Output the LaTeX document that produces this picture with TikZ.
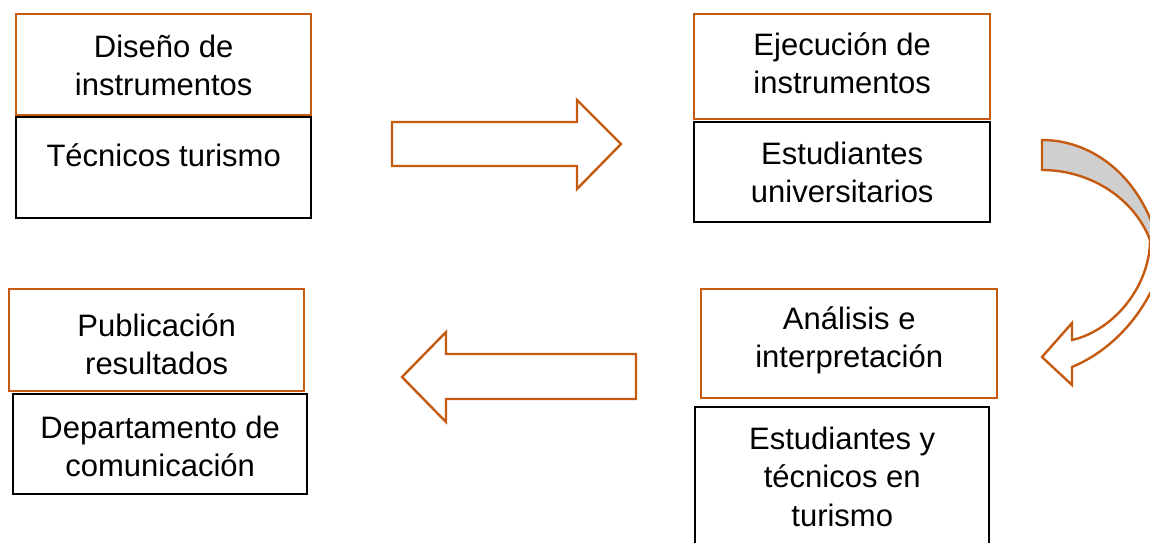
\documentclass[tikz,border=0pt]{standalone}
\usepackage{fontspec}
\setmainfont{Liberation Sans}
\definecolor{burnt}{HTML}{C55A11}
\definecolor{shade}{HTML}{CFCFCF}
\tikzset{
  stageblock/.style={draw=burnt, rectangle, line width=2.4pt, inner sep=0pt, align=center, anchor=north west, font=\fontsize{31}{38.5}\selectfont},
  teamblock/.style={stageblock, draw=black},
  flowarrow/.style={draw=burnt, line width=2.4pt, line join=miter, fill=white},
  dims/.style n args={3}{minimum width=#1, text height=#2, text depth=#3}
}

\begin{document}
\begin{tikzpicture}[x=1pt,y=-1pt]
    \useasboundingbox (0,0) rectangle (1150,542);
    % stage boxes and who does them
    \node[stageblock, dims={295pt}{81.5pt}{19.5pt}] (diseno) at (15,13) {Diseño de\\instrumentos};
    \node[teamblock, dims={295pt}{49pt}{52pt}] (tecnicos) at (15,116) {Técnicos turismo};
    \node[stageblock, dims={296pt}{79.5pt}{25.5pt}] (ejecucion) at (693,13) {Ejecución de\\instrumentos};
    \node[teamblock, dims={296pt}{80.5pt}{19.5pt}] (universitarios) at (693,121) {Estudiantes\\universitarios};
    \node[stageblock, dims={296pt}{78.5pt}{30.5pt}] (analisis) at (700,288) {Análisis e\\interpretación};
    \node[teamblock, dims={294pt}{119pt}{35pt}] (mixto) at (694,406) {Estudiantes y\\técnicos en\\turismo};
    \node[stageblock, dims={295pt}{85.5pt}{16.5pt}] (publicacion) at (8,288) {Publicación\\resultados};
    \node[teamblock, dims={294pt}{82.5pt}{17.5pt}] (comunicacion) at (12,393) {Departamento de\\comunicación};
    % block arrows
    \draw[flowarrow] (392,122) -- (577,122) -- (577,100) -- (621,144) -- (577,189) -- (577,166) -- (392,166) -- cycle;
    \draw[flowarrow] (636,354) -- (446,354) -- (446,332) -- (402,377) -- (446,422) -- (446,399) -- (636,399) -- cycle;
    % curved arrow on the right
    \begin{scope}
      \clip (0,0) rectangle (1150,542);
      \draw[flowarrow, fill=shade] (1042,170) -- (1042,140) .. controls (1095,140) and (1145,180) .. (1160,250)
        -- (1170,250) -- (1170,240) -- (1150,240) .. controls (1135,200) and (1092,170) .. (1042,170) -- cycle;
      \draw[flowarrow] (1150,240) .. controls (1150,285) and (1115,330) .. (1072,340) -- (1072,323) -- (1042,357)
        -- (1072,385) -- (1072,367) .. controls (1125,345) and (1162,290) .. (1166,240) -- (1172,240) -- cycle;
    \end{scope}
\end{tikzpicture}
\end{document}
